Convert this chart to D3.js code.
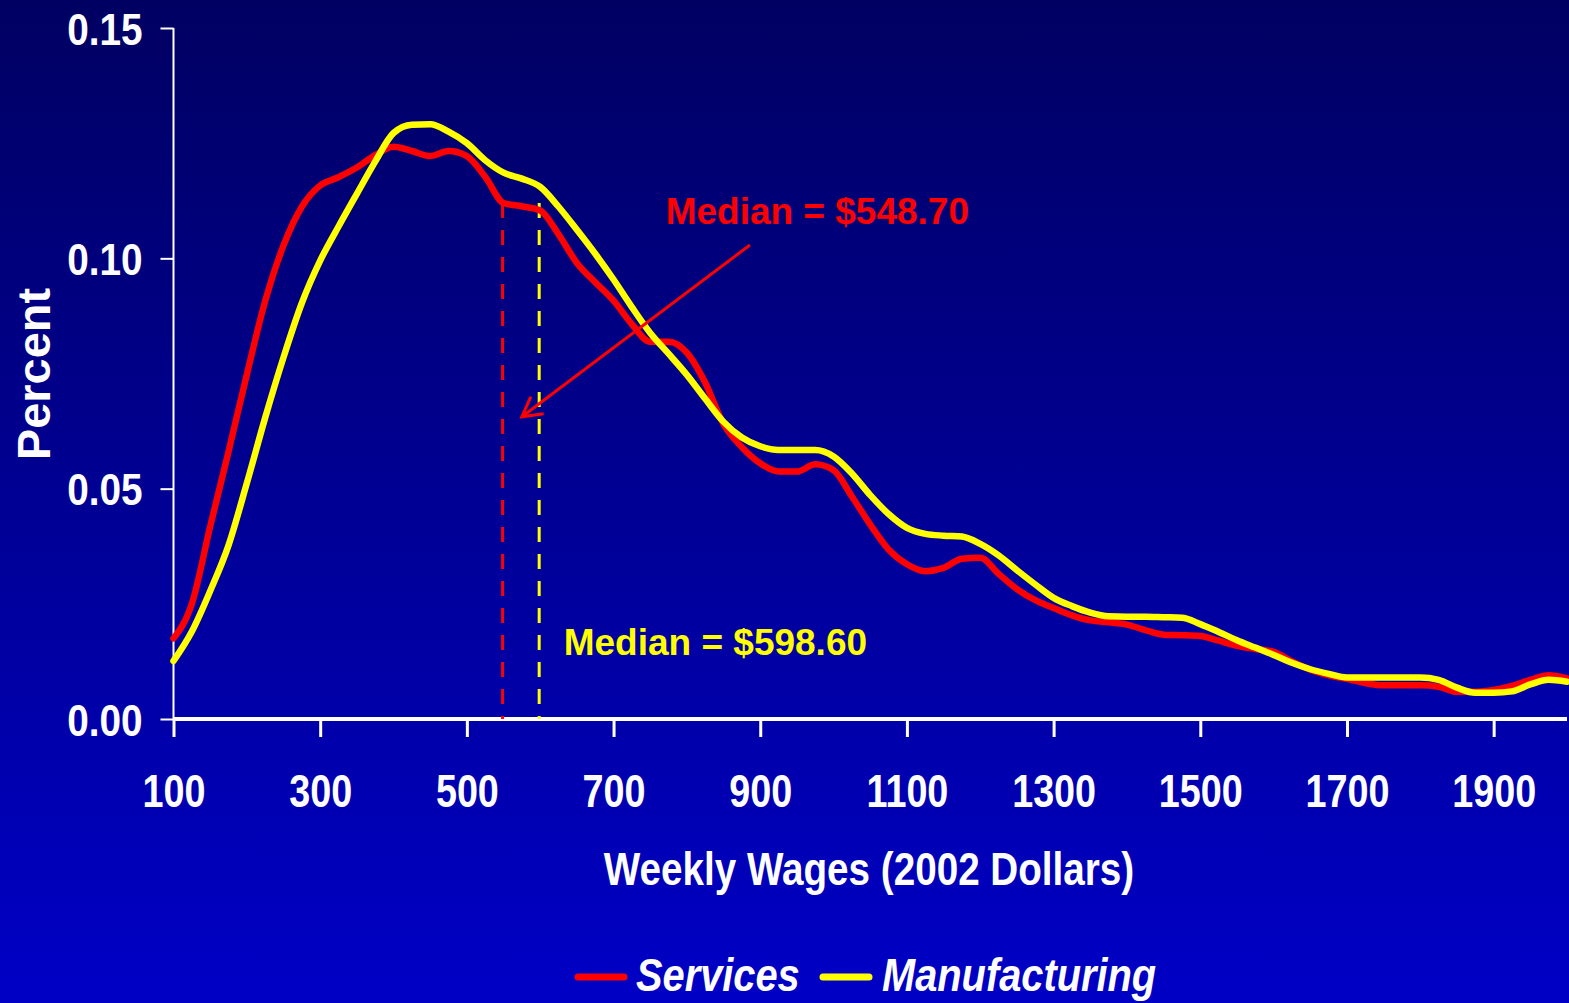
<!DOCTYPE html>
<html>
<head>
<meta charset="utf-8">
<script src="https://cdn.jsdelivr.net/npm/d3@7"></script>
<style>
  html, body { margin: 0; padding: 0; background: #000080; overflow: hidden; }
  svg { display: block; }
</style>
</head>
<body>
<svg id="chart" width="1569" height="1003"></svg>
<script>
// ---------- DATA ----------
const wages = [100,125,150,175,200,225,250,275,300,325,350,375,400,425,450,475,500,525,550,575,600,625,650,675,700,725,750,775,800,825,850,875,900,925,950,975,1000,1025,1050,1075,1100,1125,1150,1175,1200,1225,1250,1275,1300,1325,1350,1375,1400,1425,1450,1475,1500,1525,1550,1575,1600,1625,1650,1675,1700,1725,1750,1775,1800,1825,1850,1875,1900,1925,1950,1975,2000];

const services = [0.0175,0.0250,0.0418,0.0580,0.0748,0.0907,0.1028,0.1112,0.1158,0.1176,0.1197,0.1224,0.1242,0.1233,0.1222,0.1233,0.1222,0.1177,0.1120,0.1113,0.1104,0.1052,0.0990,0.0948,0.0908,0.0857,0.0819,0.0819,0.0795,0.0730,0.0640,0.0590,0.0555,0.0537,0.0537,0.0553,0.0540,0.0483,0.0422,0.0368,0.0336,0.0321,0.0328,0.0348,0.0350,0.0315,0.0282,0.0258,0.0241,0.0225,0.0214,0.0210,0.0205,0.0193,0.0183,0.0182,0.0180,0.0170,0.0159,0.0152,0.0146,0.0125,0.0107,0.0095,0.0087,0.0078,0.0073,0.0073,0.0073,0.0070,0.0059,0.0059,0.0063,0.0072,0.0085,0.0095,0.0088];

const manufacturing = [0.0126,0.0190,0.0278,0.0377,0.0512,0.0654,0.0785,0.0903,0.0995,0.1069,0.1140,0.1210,0.1272,0.1290,0.1291,0.1275,0.1250,0.1213,0.1186,0.1173,0.1155,0.1112,0.1062,0.1010,0.0954,0.0894,0.0838,0.0793,0.0747,0.0695,0.0645,0.0611,0.0592,0.0584,0.0584,0.0584,0.0570,0.0533,0.0486,0.0445,0.0415,0.0402,0.0398,0.0396,0.0380,0.0355,0.0323,0.0292,0.0263,0.0245,0.0231,0.0223,0.0222,0.0222,0.0221,0.0220,0.0206,0.0189,0.0171,0.0155,0.0139,0.0122,0.0108,0.0098,0.0090,0.0090,0.0090,0.0090,0.0090,0.0085,0.0068,0.0057,0.0057,0.0060,0.0075,0.0085,0.0081];

const seriesNames = ["Services", "Manufacturing"];
const seriesColors = ["#ff0000", "#ffff00"];

const xTicks = [100,300,500,700,900,1100,1300,1500,1700,1900];
const yTicks = [0, 0.05, 0.10, 0.15];
const yTickLabels = ["0.00", "0.05", "0.10", "0.15"];

const medians = [548.70, 598.60];
const medianLabels = ["Median = $548.70", "Median = $598.60"];
const medianTop = [0.112, 0.112];
// annotation anchors in data space
const medianLabelPos = [[771, 0.1075], [632, 0.0139]];
const arrowFrom = [886, 0.1029];
const arrowTo = [575, 0.0656];

const xTitle = "Weekly Wages (2002 Dollars)";
const yTitle = "Percent";

// ---------- LAYOUT ----------
const W = 1569, H = 1003;
const svg = d3.select("#chart");
const fontFam = "'Liberation Sans', Arial, sans-serif";

// condensed look (Arial Narrow is not installed): squeeze glyphs horizontally
function narrowify(sel, f) {
  sel.each(function() {
    const l = this.getComputedTextLength();
    d3.select(this).attr("textLength", l * (f || 0.82)).attr("lengthAdjust", "spacingAndGlyphs");
  });
}

const defs = svg.append("defs");
const grad = defs.append("linearGradient").attr("id", "bg").attr("x1", 0).attr("y1", 0).attr("x2", 0).attr("y2", 1);
grad.append("stop").attr("offset", "0%").attr("stop-color", "#000062");
grad.append("stop").attr("offset", "100%").attr("stop-color", "#0000c6");
svg.append("rect").attr("width", W).attr("height", H).attr("fill", "url(#bg)");

const x = d3.scaleLinear().domain([100, 2000]).range([173.5, 1567]);
const y = d3.scaleLinear().domain([0, 0.15]).range([719, 28]);

// Y axis
const yAxis = svg.append("g").attr("transform", `translate(${x(100)},0)`)
  .call(d3.axisLeft(y).tickValues(yTicks).tickSize(13).tickFormat((d, i) => yTickLabels[i]));
yAxis.select(".domain").attr("stroke", "#fff").attr("stroke-width", 2).attr("d", `M0,${y(0.15)}V${y(0)}`);
yAxis.selectAll(".tick line").attr("stroke", "#fff").attr("stroke-width", 2);
yAxis.selectAll(".tick text").attr("fill", "#fff").attr("font-family", fontFam).attr("font-weight", "bold")
  .attr("font-size", 45).attr("x", -31).attr("dy", "0.36em").call(narrowify, 0.86);

// X axis
const xAxis = svg.append("g").attr("transform", `translate(0,${y(0)})`)
  .call(d3.axisBottom(x).tickValues(xTicks).tickSize(18).tickFormat(d3.format("d")));
xAxis.select(".domain").attr("stroke", "#fff").attr("stroke-width", 4).attr("d", `M${x(100)},0H${x(2000)}`);
xAxis.selectAll(".tick line").attr("stroke", "#fff").attr("stroke-width", 3);
xAxis.selectAll(".tick text").attr("fill", "#fff").attr("font-family", fontFam).attr("font-weight", "bold")
  .attr("font-size", 46).attr("y", 88).attr("dy", 0).call(narrowify, 0.82);

// Axis titles
svg.append("text").attr("x", 869).attr("y", 885).attr("text-anchor", "middle")
  .attr("fill", "#fff").attr("font-family", fontFam).attr("font-weight", "bold").attr("font-size", 46)
  .text(xTitle).call(narrowify, 0.84);
svg.append("text").attr("transform", "translate(50,374) rotate(-90)").attr("text-anchor", "middle")
  .attr("fill", "#fff").attr("font-family", fontFam).attr("font-weight", "bold").attr("font-size", 47)
  .text(yTitle);

// Median dashed lines
medians.forEach((m, i) => {
  svg.append("line")
    .attr("x1", x(m)).attr("x2", x(m)).attr("y1", y(medianTop[i])).attr("y2", y(0))
    .attr("stroke", seriesColors[i]).attr("stroke-width", 3).attr("stroke-dasharray", "15,12");
});

// Lines
const line = d3.line().x((d, i) => x(wages[i])).y(d => y(d)).curve(d3.curveMonotoneX);
[services, manufacturing].forEach((vals, i) => {
  svg.append("path").datum(vals).attr("d", line)
    .attr("fill", "none").attr("stroke", seriesColors[i]).attr("stroke-width", 6.5)
    .attr("stroke-linejoin", "round").attr("stroke-linecap", "round");
});

// Median labels
medianLabels.forEach((t, i) => {
  svg.append("text").attr("x", x(medianLabelPos[i][0])).attr("y", y(medianLabelPos[i][1]))
    .attr("fill", seriesColors[i]).attr("font-family", fontFam).attr("font-weight", "bold")
    .attr("font-size", 37).text(t);
});

// Arrow
const ax1 = x(arrowFrom[0]), ay1 = y(arrowFrom[1]), ax2 = x(arrowTo[0]), ay2 = y(arrowTo[1]);
svg.append("line").attr("x1", ax1).attr("y1", ay1).attr("x2", ax2).attr("y2", ay2)
  .attr("stroke", "#ff0000").attr("stroke-width", 3);
const ang = Math.atan2(ay1 - ay2, ax1 - ax2);
const headLen = 22, headAng = 29 * Math.PI / 180;
const p1 = [ax2 + headLen * Math.cos(ang - headAng), ay2 + headLen * Math.sin(ang - headAng)];
const p2 = [ax2 + headLen * Math.cos(ang + headAng), ay2 + headLen * Math.sin(ang + headAng)];
svg.append("path").attr("d", `M${p1[0]},${p1[1]}L${ax2},${ay2}L${p2[0]},${p2[1]}`)
  .attr("fill", "none").attr("stroke", "#ff0000").attr("stroke-width", 3);

// Legend
const legendItems = [{x: 578, tx: 636}, {x: 823, tx: 882}];
seriesNames.forEach((n, i) => {
  svg.append("line").attr("x1", legendItems[i].x).attr("x2", legendItems[i].x + 46)
    .attr("y1", 977).attr("y2", 977).attr("stroke", seriesColors[i]).attr("stroke-width", 7)
    .attr("stroke-linecap", "round");
  svg.append("text").attr("x", legendItems[i].tx).attr("y", 991)
    .attr("fill", "#fff").attr("font-family", fontFam).attr("font-weight", "bold").attr("font-style", "italic")
    .attr("font-size", 46).text(n).call(narrowify, 0.865);
});
</script>
</body>
</html>
